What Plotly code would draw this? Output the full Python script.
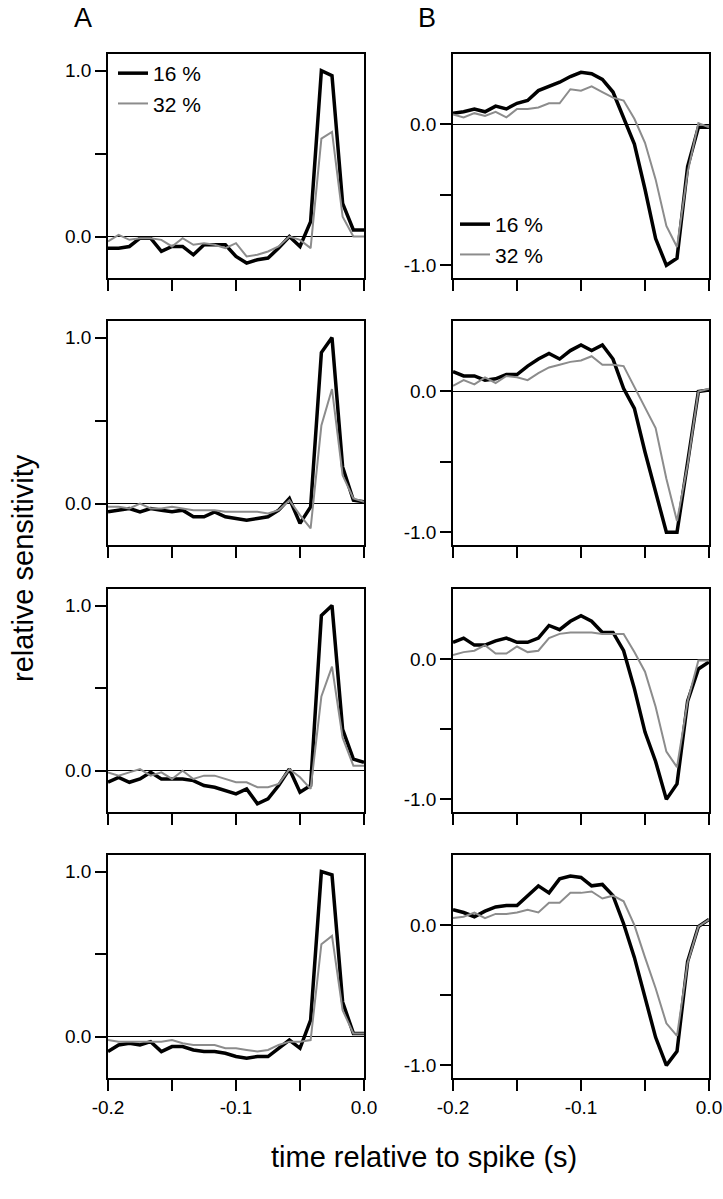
import plotly.graph_objects as go

# time axis (s), sampling at 1/120 s
TIME = [-0.2000, -0.1917, -0.1833, -0.1750, -0.1667, -0.1583, -0.1500, -0.1417,
        -0.1333, -0.1250, -0.1167, -0.1083, -0.1000, -0.0917, -0.0833, -0.0750,
        -0.0667, -0.0583, -0.0500, -0.0417, -0.0333, -0.0250, -0.0167, -0.0083, 0.0000]

SERIES_NAMES = ["16 %", "32 %"]

# Column A
A1_16 = [-0.07, -0.07, -0.06, -0.01, -0.01, -0.09, -0.06, -0.06, -0.11, -0.05, -0.05, -0.05, -0.12,
         -0.16, -0.14, -0.13, -0.07, 0.0, -0.06, 0.09, 1.0, 0.97, 0.2, 0.04, 0.04]
A1_32 = [-0.03, 0.01, -0.02, -0.01, -0.01, -0.02, -0.06, -0.01, -0.05, -0.04, -0.05, -0.07, -0.04,
         -0.12, -0.11, -0.09, -0.06, 0.0, -0.02, -0.07, 0.59, 0.63, 0.12, 0.0, 0.0]
A2_16 = [-0.05, -0.04, -0.03, -0.05, -0.03, -0.04, -0.05, -0.04, -0.08, -0.08, -0.05, -0.08, -0.09,
         -0.10, -0.09, -0.08, -0.04, 0.03, -0.12, -0.02, 0.91, 1.0, 0.22, 0.02, 0.01]
A2_32 = [-0.02, -0.02, -0.03, 0.0, -0.03, -0.03, -0.02, -0.03, -0.04, -0.04, -0.04, -0.05, -0.05,
         -0.05, -0.05, -0.06, -0.04, 0.02, -0.07, -0.15, 0.47, 0.69, 0.17, 0.03, 0.01]
A3_16 = [-0.07, -0.04, -0.07, -0.05, -0.01, -0.05, -0.05, -0.05, -0.06, -0.09, -0.10, -0.12, -0.14,
         -0.11, -0.20, -0.17, -0.09, 0.01, -0.13, -0.09, 0.94, 1.0, 0.25, 0.07, 0.05]
A3_32 = [-0.01, -0.03, -0.01, 0.01, -0.03, -0.01, -0.05, 0.0, -0.05, -0.03, -0.03, -0.05, -0.07,
         -0.07, -0.10, -0.10, -0.08, 0.01, -0.04, -0.11, 0.45, 0.63, 0.20, 0.03, 0.03]
A4_16 = [-0.09, -0.05, -0.04, -0.05, -0.03, -0.09, -0.06, -0.06, -0.08, -0.09, -0.09, -0.10, -0.12,
         -0.13, -0.12, -0.12, -0.07, -0.02, -0.07, 0.10, 1.0, 0.98, 0.21, 0.02, 0.02]
A4_32 = [-0.02, -0.03, -0.03, -0.03, -0.03, -0.03, -0.02, -0.04, -0.05, -0.05, -0.05, -0.07, -0.07,
         -0.08, -0.09, -0.08, -0.05, -0.03, -0.03, -0.02, 0.56, 0.61, 0.16, 0.02, 0.02]

# Column B
B1_16 = [0.08, 0.09, 0.11, 0.09, 0.13, 0.11, 0.15, 0.17, 0.24, 0.27, 0.30, 0.34, 0.37, 0.36, 0.32,
         0.23, 0.05, -0.14, -0.46, -0.81, -1.0, -0.95, -0.30, -0.02, -0.02]
B1_32 = [0.07, 0.05, 0.08, 0.06, 0.09, 0.05, 0.11, 0.11, 0.12, 0.15, 0.15, 0.25, 0.24, 0.27, 0.23,
         0.19, 0.17, 0.04, -0.13, -0.39, -0.72, -0.87, -0.34, 0.01, -0.02]
B2_16 = [0.14, 0.11, 0.11, 0.08, 0.09, 0.12, 0.12, 0.18, 0.23, 0.27, 0.23, 0.29, 0.33, 0.29, 0.33,
         0.23, 0.02, -0.12, -0.43, -0.71, -1.0, -1.0, -0.50, 0.0, 0.01]
B2_32 = [0.04, 0.08, 0.05, 0.10, 0.06, 0.11, 0.10, 0.08, 0.13, 0.17, 0.19, 0.21, 0.22, 0.25, 0.19,
         0.19, 0.18, 0.03, -0.11, -0.26, -0.62, -0.92, -0.52, 0.0, 0.02]
B3_16 = [0.12, 0.15, 0.10, 0.10, 0.13, 0.15, 0.12, 0.12, 0.15, 0.24, 0.21, 0.27, 0.31, 0.27, 0.19,
         0.19, 0.06, -0.21, -0.52, -0.73, -1.0, -0.89, -0.30, -0.07, -0.02]
B3_32 = [0.03, 0.05, 0.06, 0.10, 0.04, 0.04, 0.09, 0.05, 0.06, 0.15, 0.18, 0.19, 0.19, 0.19, 0.18,
         0.18, 0.18, 0.05, -0.09, -0.34, -0.66, -0.77, -0.30, -0.01, -0.01]
B4_16 = [0.11, 0.09, 0.06, 0.10, 0.13, 0.14, 0.14, 0.21, 0.28, 0.23, 0.33, 0.35, 0.34, 0.28, 0.29,
         0.21, 0.01, -0.23, -0.52, -0.80, -1.0, -0.90, -0.26, -0.01, 0.04]
B4_32 = [0.05, 0.06, 0.09, 0.05, 0.08, 0.08, 0.09, 0.11, 0.09, 0.16, 0.16, 0.23, 0.23, 0.24, 0.19,
         0.21, 0.17, 0.0, -0.23, -0.45, -0.70, -0.79, -0.27, -0.01, 0.04]

X_TICKS = [-0.2, -0.15, -0.1, -0.05, 0.0]
X_TICKTEXT = ["-0.2", "", "-0.1", "", "0.0"]
A_YTICKS = [0.0, 0.5, 1.0]
A_YTICKTEXT = ["0.0", "", "1.0"]
B_YTICKS = [-1.0, -0.5, 0.0]
B_YTICKTEXT = ["-1.0", "", "0.0"]

PANELS_A = [(A1_16, A1_32), (A2_16, A2_32), (A3_16, A3_32), (A4_16, A4_32)]
PANELS_B = [(B1_16, B1_32), (B2_16, B2_32), (B3_16, B3_32), (B4_16, B4_32)]

W, H = 723, 1199
FONT = "Liberation Sans, Arial, Helvetica, sans-serif"
COL_X = [(108, 364), (453, 709)]
ROW_Y = [(54, 278), (321, 545), (589, 812), (855, 1078)]


def px(x):
    return x / W


def py(y):
    return 1 - y / H


fig = go.Figure()
layout = dict(width=W, height=H, margin=dict(l=0, r=0, t=0, b=0, autoexpand=False),
              template="none",
              paper_bgcolor="white", plot_bgcolor="white",
              font=dict(family=FONT, color="black"), showlegend=True)

for r in range(4):
    for c in range(2):
        i = r * 2 + c + 1
        sx = "" if i == 1 else str(i)
        y16, y32 = (PANELS_A if c == 0 else PANELS_B)[r]
        first = (r == 0)
        leg = "legend" if c == 0 else "legend2"
        fig.add_trace(go.Scatter(x=TIME, y=y16, mode="lines", name=SERIES_NAMES[0],
                                 line=dict(color="black", width=3.5),
                                 xaxis="x" + sx, yaxis="y" + sx,
                                 showlegend=first, legend=leg))
        fig.add_trace(go.Scatter(x=TIME, y=y32, mode="lines", name=SERIES_NAMES[1],
                                 line=dict(color="#8c8c8c", width=2),
                                 xaxis="x" + sx, yaxis="y" + sx,
                                 showlegend=first, legend=leg))
        x0, x1 = COL_X[c]
        top, bot = ROW_Y[r]
        layout["xaxis" + sx] = dict(
            domain=[px(x0), px(x1)], range=[-0.2, 0.0], anchor="y" + sx, automargin=False,
            tickvals=X_TICKS, ticktext=X_TICKTEXT, showticklabels=(r == 3),
            ticks="outside", ticklen=11, tickwidth=1.5, tickcolor="black",
            showline=True, linecolor="black", linewidth=1.5, mirror=True,
            showgrid=False, zeroline=False, tickfont=dict(size=19, family=FONT))
        if c == 0:
            yr, yt, ytt = [-0.25, 1.1], A_YTICKS, A_YTICKTEXT
        else:
            yr, yt, ytt = [-1.09, 0.5], B_YTICKS, B_YTICKTEXT
        layout["yaxis" + sx] = dict(
            domain=[py(bot), py(top)], range=yr, anchor="x" + sx, automargin=False,
            tickvals=yt, ticktext=ytt,
            ticks="outside", ticklen=11, tickwidth=1.5, tickcolor="black",
            showline=True, linecolor="black", linewidth=1.5, mirror=True,
            showgrid=False, zeroline=True, zerolinecolor="black", zerolinewidth=1.2,
            tickfont=dict(size=19, family=FONT))

layout["legend"] = dict(x=px(113), y=py(53), xanchor="left", yanchor="top",
                        font=dict(size=21, family=FONT), bgcolor="rgba(0,0,0,0)",
                        itemwidth=30, tracegroupgap=0)
layout["legend2"] = dict(x=px(455), y=py(204), xanchor="left", yanchor="top",
                         font=dict(size=21, family=FONT), bgcolor="rgba(0,0,0,0)",
                         itemwidth=30, tracegroupgap=0)

layout["annotations"] = [
    dict(text="A", x=px(83), y=py(18), xref="paper", yref="paper", showarrow=False,
         xanchor="center", yanchor="middle", font=dict(size=27, family=FONT)),
    dict(text="B", x=px(427), y=py(18), xref="paper", yref="paper", showarrow=False,
         xanchor="center", yanchor="middle", font=dict(size=27, family=FONT)),
    dict(text="relative sensitivity", x=px(23), y=py(568), xref="paper", yref="paper",
         showarrow=False, textangle=-90, xanchor="center", yanchor="middle",
         font=dict(size=29, family=FONT)),
    dict(text="time relative to spike (s)", x=px(424), y=py(1157), xref="paper",
         yref="paper", showarrow=False, xanchor="center", yanchor="middle",
         font=dict(size=29, family=FONT)),
]

fig.update_layout(**layout)
# place the figure at the page origin (no default body margin, no scrollbars)
fig.write_html(
    "out.html",
    config={"displayModeBar": False},
    post_script="document.body.style.margin='0';"
                "document.body.style.overflow='hidden';"
                "document.documentElement.style.overflow='hidden';",
)
